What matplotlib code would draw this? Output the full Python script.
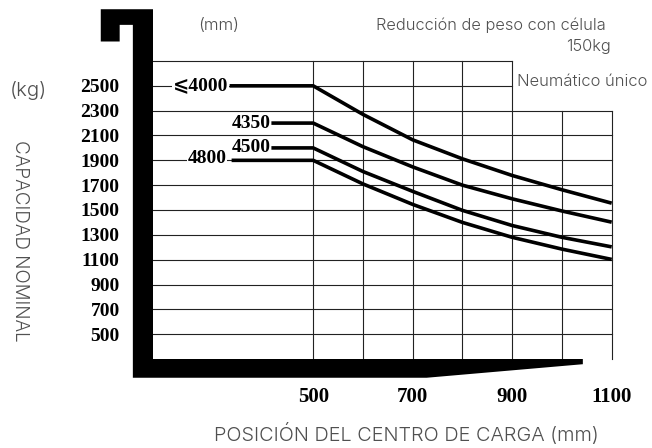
import matplotlib
matplotlib.use("Agg")
import matplotlib.pyplot as plt
from matplotlib.patches import Polygon

# capacity curves (load centre mm -> kg)
x_pts = [500, 600, 700, 800, 900, 1000, 1100]
cap_4000 = [2500, 2270, 2065, 1912, 1778, 1663, 1555]
cap_4350 = [2200, 2010, 1847, 1700, 1590, 1492, 1402]
cap_4500 = [2000, 1810, 1650, 1497, 1375, 1280, 1203]
cap_4800 = [1900, 1710, 1545, 1400, 1280, 1185, 1102]

curves = [
    ("⩽4000", 332, cap_4000),
    ("4350", 416, cap_4350),
    ("4500", 416, cap_4500),
    ("4800", 336, cap_4800),
]
label_pos = {"⩽4000": (330, 2505), "4350": (414, 2200), "4500": (414, 2000), "4800": (326, 1915)}

y_ticks = [500, 700, 900, 1100, 1300, 1500, 1700, 1900, 2100, 2300, 2500]
x_ticks = [500, 700, 900, 1100]

grey = "#505050"
sans = ["Inter", "Noto Sans", "DejaVu Sans"]
serif = ["Liberation Serif", "DejaVu Serif", "DejaVu Sans"]

fig = plt.figure(figsize=(6.52, 4.48), dpi=100)
ax = fig.add_axes([153 / 652, 1 - 359 / 448, 458.7 / 652, 298 / 448])
ax.set_xlim(178, 1100)
ax.set_ylim(300, 2700)
for s in ax.spines.values():
    s.set_visible(False)

# grid
gc = "#222222"
for y in range(500, 2400, 200):
    ax.plot([178, 1100], [y, y], color=gc, lw=0.8, zorder=1, clip_on=False)
for y in [2500, 2700]:
    ax.plot([178, 900], [y, y], color=gc, lw=0.8, zorder=1, clip_on=False)
for x in [500, 600, 700, 800, 900]:
    ax.plot([x, x], [300, 2700], color=gc, lw=0.8, zorder=1, clip_on=False)
for x in [1000, 1100]:
    ax.plot([x, x], [300, 2300], color=gc, lw=0.8, zorder=1, clip_on=False)

# curves
for name, x0, vals in curves:
    ax.plot([x0] + x_pts, [vals[0]] + vals, color="black", lw=2.6,
            solid_capstyle="butt", zorder=3, clip_on=False)
    lx, ly = label_pos[name]
    ax.text(lx, ly, name, ha="right", va="center", fontsize=14, fontweight="bold",
            family=serif, zorder=4,
            bbox=dict(fc="white", ec="none", pad=0.5))

# fork-shaped frame
fork = Polygon([(73, 3117), (178, 3117), (178, 300), (1042, 300), (1042, 258),
                (728, 149), (137.5, 149), (137.5, 2991), (111, 2991), (111, 2857),
                (73, 2857)], closed=True, fc="black", ec="none", zorder=5, clip_on=False)
ax.add_patch(fork)

ax.set_yticks(y_ticks)
ax.set_yticklabels([str(v) for v in y_ticks], fontsize=14, fontweight="bold", family=serif)
ax.set_xticks(x_ticks)
ax.set_xticklabels([str(v) for v in x_ticks], fontsize=15, fontweight="bold", family=serif)
ax.tick_params(axis="y", length=0, pad=24)
ax.tick_params(axis="x", length=0, pad=20)

# annotations: (text, x, y, ha, va, rotation, target length in px)
notes = [
    ("(mm)", 219, 26, "center", "center", 0, 41),
    ("(kg)", 28, 91, "center", "center", 0, 37),
    ("CAPACIDAD NOMINAL", 20, 241, "center", "center", 270, 203),
    ("POSICIÓN DEL CENTRO DE CARGA (mm)", 406, 441, "center", "baseline", 0, 387),
    ("Reducción de peso con célula", 606, 25, "right", "center", 0, 229),
    ("150kg", 611, 46, "right", "center", 0, 45),
    ("Neumático único", 517, 82, "left", "center", 0, 130),
]
renderer = fig.canvas.get_renderer()
for txt, px, py, ha, va, rot, length in notes:
    t = fig.text(px / 652, 1 - py / 448, txt, ha=ha, va=va, rotation=rot,
                 fontsize=12, color=grey, family=sans, fontweight=300)
    bb = t.get_window_extent(renderer)
    cur = bb.height if rot else bb.width
    t.set_fontsize(12 * length / cur)

fig.savefig("out.png", dpi=100)
